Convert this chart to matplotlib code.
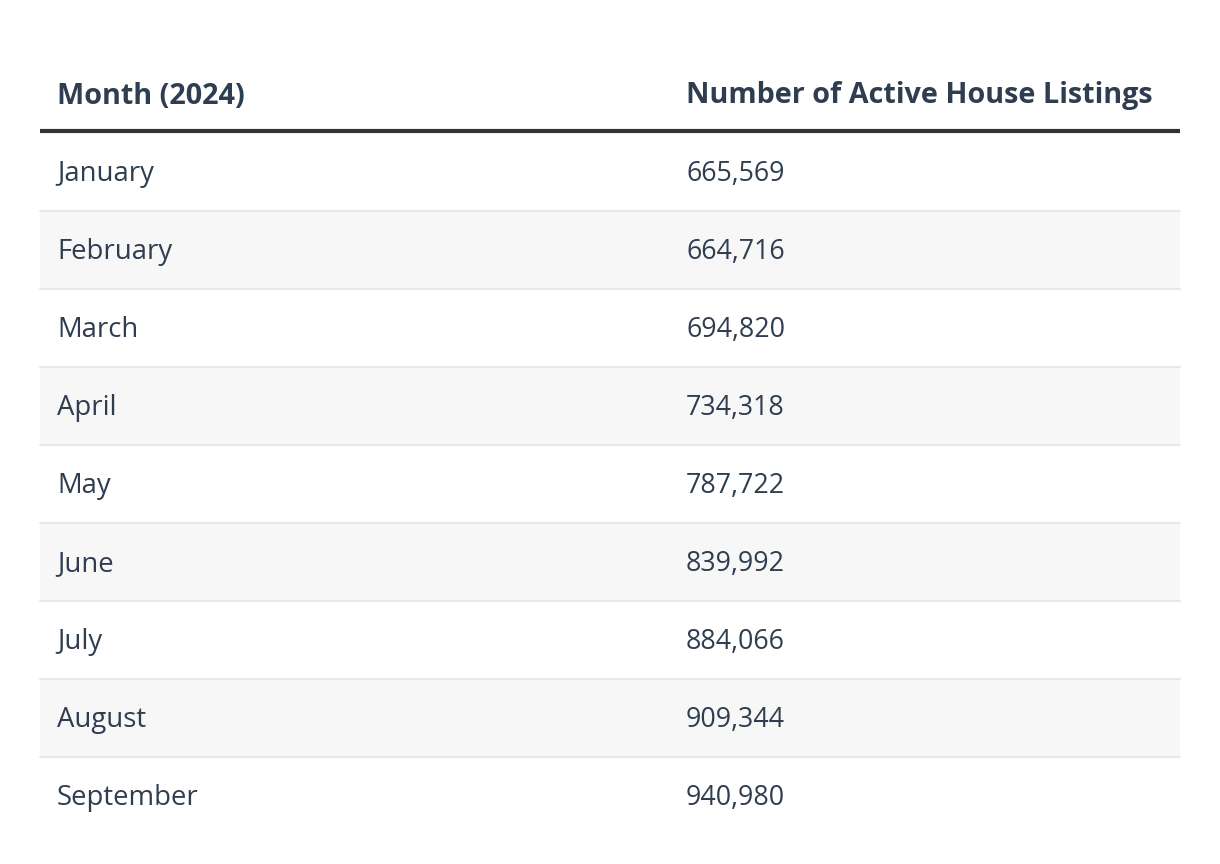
import matplotlib.pyplot as plt
from matplotlib.patches import Rectangle

plt.rcParams["font.family"] = ["Open Sans", "DejaVu Sans"]

headers = ["Month (2024)", "Number of Active House Listings"]
months = ["January", "February", "March", "April", "May", "June",
          "July", "August", "September"]
listings = [665569, 664716, 694820, 734318, 787722, 839992,
            884066, 909344, 940980]

W, H = 1220, 864
text_color = "#2e3d4f"

fig = plt.figure(figsize=(W / 100, H / 100), dpi=100)
ax = fig.add_axes([0, 0, 1, 1])
ax.set_xlim(0, W)
ax.set_ylim(H, 0)
ax.axis("off")

left, right = 40, 1180
col_x = [57, 686]
top = 133
row_h = 78

# header
for x, h in zip(col_x, headers):
    ax.text(x, 96, h, fontsize=20.7, fontweight="bold", color=text_color,
            va="center", ha="left")
ax.plot([left, right], [131, 131], color="#333333", lw=3, solid_capstyle="butt")

# rows
for i, (m, v) in enumerate(zip(months, listings)):
    y0 = top + i * row_h
    if i % 2 == 1:
        ax.add_patch(Rectangle((left, y0), right - left, row_h,
                               facecolor="#f7f7f7", edgecolor="none"))
    if i < len(months) - 1:
        ax.plot([left, right], [y0 + row_h, y0 + row_h], color="#e4e4e4", lw=1.2)
    yc = y0 + row_h / 2 + 2
    ax.text(col_x[0], yc, m, fontsize=19.8, color=text_color, va="center", ha="left")
    ax.text(col_x[1], yc, f"{v:,}", fontsize=19.3, color=text_color,
            va="center", ha="left")

fig.savefig("out.png", dpi=100, facecolor="white")
